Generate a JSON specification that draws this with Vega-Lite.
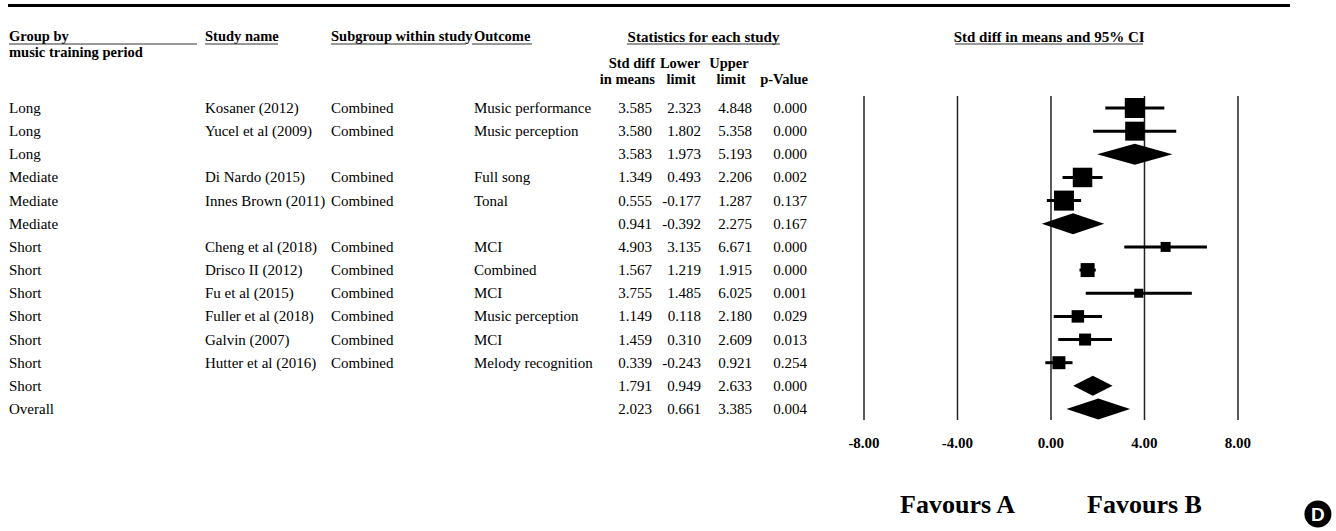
{
  "$schema": "https://vega.github.io/schema/vega-lite/v6.json",
  "padding": 0,
  "background": "white",
  "spacing": 14,
  "bounds": "flush",
  "config": {
    "view": {"stroke": null},
    "axis": {"disable": true},
    "locale": {"number": {"decimal": ".", "thousands": ",", "grouping": [3], "currency": ["$", ""], "minus": "-"}},
    "text": {"font": "Liberation Serif", "color": "black", "fontSize": 15}
  },
  "datasets": {
    "studies": [
      {"id": 1, "group": "Long", "study": "Kosaner (2012)", "subgroup": "Combined", "outcome": "Music performance", "est": 3.585, "lo": 2.323, "hi": 4.848, "p": 0.000, "weight": 4.0},
      {"id": 2, "group": "Long", "study": "Yucel et al (2009)", "subgroup": "Combined", "outcome": "Music perception", "est": 3.580, "lo": 1.802, "hi": 5.358, "p": 0.000, "weight": 3.6},
      {"id": 3, "group": "Long", "est": 3.583, "lo": 1.973, "hi": 5.193, "p": 0.000},
      {"id": 4, "group": "Mediate", "study": "Di Nardo (2015)", "subgroup": "Combined", "outcome": "Full song", "est": 1.349, "lo": 0.493, "hi": 2.206, "p": 0.002, "weight": 3.8},
      {"id": 5, "group": "Mediate", "study": "Innes Brown (2011)", "subgroup": "Combined", "outcome": "Tonal", "est": 0.555, "lo": -0.177, "hi": 1.287, "p": 0.137, "weight": 4.0},
      {"id": 6, "group": "Mediate", "est": 0.941, "lo": -0.392, "hi": 2.275, "p": 0.167},
      {"id": 7, "group": "Short", "study": "Cheng et al (2018)", "subgroup": "Combined", "outcome": "MCI", "est": 4.903, "lo": 3.135, "hi": 6.671, "p": 0.000, "weight": 1.0},
      {"id": 8, "group": "Short", "study": "Drisco II (2012)", "subgroup": "Combined", "outcome": "Combined", "est": 1.567, "lo": 1.219, "hi": 1.915, "p": 0.000, "weight": 1.96},
      {"id": 9, "group": "Short", "study": "Fu et al (2015)", "subgroup": "Combined", "outcome": "MCI", "est": 3.755, "lo": 1.485, "hi": 6.025, "p": 0.001, "weight": 0.81},
      {"id": 10, "group": "Short", "study": "Fuller et al (2018)", "subgroup": "Combined", "outcome": "Music perception", "est": 1.149, "lo": 0.118, "hi": 2.180, "p": 0.029, "weight": 1.56},
      {"id": 11, "group": "Short", "study": "Galvin (2007)", "subgroup": "Combined", "outcome": "MCI", "est": 1.459, "lo": 0.310, "hi": 2.609, "p": 0.013, "weight": 1.44},
      {"id": 12, "group": "Short", "study": "Hutter et al (2016)", "subgroup": "Combined", "outcome": "Melody recognition", "est": 0.339, "lo": -0.243, "hi": 0.921, "p": 0.254, "weight": 1.69},
      {"id": 13, "group": "Short", "est": 1.791, "lo": 0.949, "hi": 2.633, "p": 0.000},
      {"id": 14, "group": "Overall", "est": 2.023, "lo": 0.661, "hi": 3.385, "p": 0.004}
    ],
    "ticks": [{"t": -8}, {"t": -4}, {"t": 0}, {"t": 4}, {"t": 8}]
  },
  "resolve": {"scale": {"x": "independent", "y": "independent"}},
  "hconcat": [
    {
      "width": 850,
      "height": 531,
      "layer": [
        {
          "data": {"values": [{}]},
          "mark": {"type": "rule", "strokeWidth": 3, "color": "black"},
          "encoding": {
            "x": {"datum": 8, "type": "quantitative", "scale": {"domain": [0, 850], "nice": false, "zero": false}, "axis": null},
            "x2": {"datum": 1290},
            "y": {"datum": -3.427, "type": "quantitative", "scale": {"domain": [-3.6644, 19.269], "nice": false, "zero": false, "reverse": true}, "axis": null}
          }
        },
        {
          "data": {"values": [{"t": "Group by"}]},
          "mark": {"type": "text", "align": "left", "baseline": "middle", "fontWeight": "bold", "fontSize": 14.5},
          "encoding": {"x": {"datum": 9, "type": "quantitative"}, "y": {"datum": -2.066, "type": "quantitative"}, "text": {"field": "t"}}
        },
        {
          "data": {"values": [{"t": "music training period"}]},
          "mark": {"type": "text", "align": "left", "baseline": "middle", "fontWeight": "bold", "fontSize": 14.5},
          "encoding": {"x": {"datum": 9, "type": "quantitative"}, "y": {"datum": -1.375, "type": "quantitative"}, "text": {"field": "t"}}
        },
        {
          "data": {"values": [{"t": "Study name"}]},
          "mark": {"type": "text", "align": "left", "baseline": "middle", "fontWeight": "bold", "fontSize": 14.5},
          "encoding": {"x": {"datum": 205, "type": "quantitative"}, "y": {"datum": -2.066, "type": "quantitative"}, "text": {"field": "t"}}
        },
        {
          "data": {"values": [{"t": "Subgroup within study"}]},
          "mark": {"type": "text", "align": "left", "baseline": "middle", "fontWeight": "bold", "fontSize": 14.5},
          "encoding": {"x": {"datum": 331, "type": "quantitative"}, "y": {"datum": -2.066, "type": "quantitative"}, "text": {"field": "t"}}
        },
        {
          "data": {"values": [{"t": "Outcome"}]},
          "mark": {"type": "text", "align": "left", "baseline": "middle", "fontWeight": "bold", "fontSize": 14.5},
          "encoding": {"x": {"datum": 474, "type": "quantitative"}, "y": {"datum": -2.066, "type": "quantitative"}, "text": {"field": "t"}}
        },
        {
          "data": {"values": [{"t": "Statistics for each study"}]},
          "mark": {"type": "text", "align": "center", "baseline": "middle", "fontWeight": "bold", "fontSize": 15},
          "encoding": {"x": {"datum": 703.5, "type": "quantitative"}, "y": {"datum": -2.066, "type": "quantitative"}, "text": {"field": "t"}}
        },
        {
          "data": {"values": [{"t": "Std diff"}]},
          "mark": {"type": "text", "align": "right", "baseline": "middle", "fontWeight": "bold", "fontSize": 14.5},
          "encoding": {"x": {"datum": 655, "type": "quantitative"}, "y": {"datum": -0.9, "type": "quantitative"}, "text": {"field": "t"}}
        },
        {
          "data": {"values": [{"t": "in means"}]},
          "mark": {"type": "text", "align": "right", "baseline": "middle", "fontWeight": "bold", "fontSize": 14.5},
          "encoding": {"x": {"datum": 655, "type": "quantitative"}, "y": {"datum": -0.209, "type": "quantitative"}, "text": {"field": "t"}}
        },
        {
          "data": {"values": [{"t": "Lower"}]},
          "mark": {"type": "text", "align": "center", "baseline": "middle", "fontWeight": "bold", "fontSize": 14.5},
          "encoding": {"x": {"datum": 680, "type": "quantitative"}, "y": {"datum": -0.9, "type": "quantitative"}, "text": {"field": "t"}}
        },
        {
          "data": {"values": [{"t": "limit"}]},
          "mark": {"type": "text", "align": "center", "baseline": "middle", "fontWeight": "bold", "fontSize": 14.5},
          "encoding": {"x": {"datum": 681, "type": "quantitative"}, "y": {"datum": -0.209, "type": "quantitative"}, "text": {"field": "t"}}
        },
        {
          "data": {"values": [{"t": "Upper"}]},
          "mark": {"type": "text", "align": "center", "baseline": "middle", "fontWeight": "bold", "fontSize": 14.5},
          "encoding": {"x": {"datum": 729, "type": "quantitative"}, "y": {"datum": -0.9, "type": "quantitative"}, "text": {"field": "t"}}
        },
        {
          "data": {"values": [{"t": "limit"}]},
          "mark": {"type": "text", "align": "center", "baseline": "middle", "fontWeight": "bold", "fontSize": 14.5},
          "encoding": {"x": {"datum": 731, "type": "quantitative"}, "y": {"datum": -0.209, "type": "quantitative"}, "text": {"field": "t"}}
        },
        {
          "data": {"values": [{"t": "p-Value"}]},
          "mark": {"type": "text", "align": "right", "baseline": "middle", "fontWeight": "bold", "fontSize": 14.5},
          "encoding": {"x": {"datum": 808, "type": "quantitative"}, "y": {"datum": -0.209, "type": "quantitative"}, "text": {"field": "t"}}
        },
        {
          "data": {"values": [{}]},
          "mark": {"type": "rule", "strokeWidth": 1, "color": "#333"},
          "encoding": {"x": {"datum": 9}, "x2": {"datum": 197}, "y": {"datum": -1.764}}
        },
        {
          "data": {"values": [{}]},
          "mark": {"type": "rule", "strokeWidth": 1, "color": "#333"},
          "encoding": {"x": {"datum": 205}, "x2": {"datum": 278}, "y": {"datum": -1.764}}
        },
        {
          "data": {"values": [{}]},
          "mark": {"type": "rule", "strokeWidth": 1, "color": "#333"},
          "encoding": {"x": {"datum": 331}, "x2": {"datum": 466}, "y": {"datum": -1.764}}
        },
        {
          "data": {"values": [{}]},
          "mark": {"type": "rule", "strokeWidth": 1, "color": "#333"},
          "encoding": {"x": {"datum": 472}, "x2": {"datum": 532}, "y": {"datum": -1.764}}
        },
        {
          "data": {"values": [{}]},
          "mark": {"type": "rule", "strokeWidth": 1, "color": "#333"},
          "encoding": {"x": {"datum": 627}, "x2": {"datum": 780}, "y": {"datum": -1.764}}
        },
        {
          "data": {"name": "studies"},
          "mark": {"type": "text", "align": "left", "baseline": "middle"},
          "encoding": {"x": {"datum": 9, "type": "quantitative"}, "y": {"field": "id", "type": "quantitative"}, "text": {"field": "group"}}
        },
        {
          "data": {"name": "studies"},
          "transform": [{"filter": "isValid(datum.study)"}],
          "mark": {"type": "text", "align": "left", "baseline": "middle"},
          "encoding": {"x": {"datum": 205, "type": "quantitative"}, "y": {"field": "id", "type": "quantitative"}, "text": {"field": "study"}}
        },
        {
          "data": {"name": "studies"},
          "transform": [{"filter": "isValid(datum.subgroup)"}],
          "mark": {"type": "text", "align": "left", "baseline": "middle"},
          "encoding": {"x": {"datum": 331, "type": "quantitative"}, "y": {"field": "id", "type": "quantitative"}, "text": {"field": "subgroup"}}
        },
        {
          "data": {"name": "studies"},
          "transform": [{"filter": "isValid(datum.outcome)"}],
          "mark": {"type": "text", "align": "left", "baseline": "middle"},
          "encoding": {"x": {"datum": 474, "type": "quantitative"}, "y": {"field": "id", "type": "quantitative"}, "text": {"field": "outcome"}}
        },
        {
          "data": {"name": "studies"},
          "mark": {"type": "text", "align": "right", "baseline": "middle"},
          "encoding": {"x": {"datum": 652, "type": "quantitative"}, "y": {"field": "id", "type": "quantitative"}, "text": {"field": "est", "type": "quantitative", "format": ".3f"}}
        },
        {
          "data": {"name": "studies"},
          "mark": {"type": "text", "align": "right", "baseline": "middle"},
          "encoding": {"x": {"datum": 701, "type": "quantitative"}, "y": {"field": "id", "type": "quantitative"}, "text": {"field": "lo", "type": "quantitative", "format": ".3f"}}
        },
        {
          "data": {"name": "studies"},
          "mark": {"type": "text", "align": "right", "baseline": "middle"},
          "encoding": {"x": {"datum": 752, "type": "quantitative"}, "y": {"field": "id", "type": "quantitative"}, "text": {"field": "hi", "type": "quantitative", "format": ".3f"}}
        },
        {
          "data": {"name": "studies"},
          "mark": {"type": "text", "align": "right", "baseline": "middle"},
          "encoding": {"x": {"datum": 807, "type": "quantitative"}, "y": {"field": "id", "type": "quantitative"}, "text": {"field": "p", "type": "quantitative", "format": ".3f"}}
        }
      ]
    },
    {
      "width": 472,
      "height": 531,
      "layer": [
        {
          "data": {"name": "ticks"},
          "mark": {"type": "rule", "strokeWidth": 1.5, "color": "#222"},
          "encoding": {
            "x": {"field": "t", "type": "quantitative", "scale": {"domain": [-8, 12.193], "nice": false, "zero": false}, "axis": null},
            "y": {"datum": 0.482, "type": "quantitative", "scale": {"domain": [-3.6644, 19.269], "nice": false, "zero": false, "reverse": true}, "axis": null},
            "y2": {"datum": 14.475}
          }
        },
        {
          "data": {"name": "ticks"},
          "mark": {"type": "text", "align": "center", "baseline": "middle", "fontWeight": "bold", "fontSize": 15},
          "encoding": {
            "x": {"field": "t", "type": "quantitative"},
            "y": {"datum": 15.468, "type": "quantitative"},
            "text": {"field": "t", "type": "quantitative", "format": ".2f"}
          }
        },
        {
          "data": {"name": "studies"},
          "transform": [{"filter": "isValid(datum.study)"}],
          "mark": {"type": "rule", "strokeWidth": 3, "color": "black"},
          "encoding": {
            "x": {"field": "lo", "type": "quantitative"},
            "x2": {"field": "hi"},
            "y": {"field": "id", "type": "quantitative"}
          }
        },
        {
          "data": {"name": "studies"},
          "transform": [{"filter": "isValid(datum.weight)"}],
          "mark": {"type": "point", "shape": "square", "filled": true, "color": "black", "opacity": 1},
          "encoding": {
            "x": {"field": "est", "type": "quantitative"},
            "y": {"field": "id", "type": "quantitative"},
            "size": {"field": "weight", "type": "quantitative", "scale": {"domain": [0, 4], "range": [0, 400]}, "legend": null}
          }
        },
        {
          "data": {"name": "studies"},
          "transform": [{"filter": "!isValid(datum.study)"}],
          "mark": {"type": "point", "filled": true, "color": "black", "opacity": 1, "size": 4, "strokeWidth": 0},
          "encoding": {
            "x": {"field": "est", "type": "quantitative"},
            "y": {"field": "id", "type": "quantitative"},
            "shape": {
              "field": "group",
              "type": "nominal",
              "scale": {
                "domain": ["Long", "Mediate", "Short", "Overall"],
                "range": [
                  "M-37.63,0L0,-10.5L37.63,0L0,10.5Z",
                  "M-31.17,0L0,-10.5L31.17,0L0,10.5Z",
                  "M-19.68,0L0,-10L19.68,0L0,10Z",
                  "M-31.84,0L0,-10.5L31.84,0L0,10.5Z"
                ]
              },
              "legend": null
            }
          }
        },
        {
          "data": {"values": [{"t": "Std diff in means and 95% CI"}]},
          "mark": {"type": "text", "align": "center", "baseline": "middle", "fontWeight": "bold", "fontSize": 15},
          "encoding": {"x": {"datum": -0.08, "type": "quantitative"}, "y": {"datum": -2.066, "type": "quantitative"}, "text": {"field": "t"}}
        },
        {
          "data": {"values": [{}]},
          "mark": {"type": "rule", "strokeWidth": 1, "color": "#333"},
          "encoding": {"x": {"datum": -4.107}, "x2": {"datum": 3.936}, "y": {"datum": -1.764}}
        },
        {
          "data": {"values": [{"t": "Favours A"}]},
          "mark": {"type": "text", "align": "center", "baseline": "middle", "fontWeight": "bold", "fontSize": 26},
          "encoding": {"x": {"datum": -4, "type": "quantitative"}, "y": {"datum": 18.146, "type": "quantitative"}, "text": {"field": "t"}}
        },
        {
          "data": {"values": [{"t": "Favours B"}]},
          "mark": {"type": "text", "align": "center", "baseline": "middle", "fontWeight": "bold", "fontSize": 26},
          "encoding": {"x": {"datum": 4, "type": "quantitative"}, "y": {"datum": 18.146, "type": "quantitative"}, "text": {"field": "t"}}
        },
        {
          "data": {"values": [{}]},
          "mark": {"type": "point", "shape": "circle", "filled": true, "color": "black", "opacity": 1, "size": 729},
          "encoding": {"x": {"datum": 11.42, "type": "quantitative"}, "y": {"datum": 18.535, "type": "quantitative"}}
        },
        {
          "data": {"values": [{"t": "D"}]},
          "mark": {"type": "text", "align": "center", "baseline": "middle", "fontWeight": "bold", "fontSize": 19, "font": "Liberation Sans", "color": "white", "dy": 1},
          "encoding": {"x": {"datum": 11.42, "type": "quantitative"}, "y": {"datum": 18.535, "type": "quantitative"}, "text": {"field": "t"}}
        }
      ]
    }
  ]
}
